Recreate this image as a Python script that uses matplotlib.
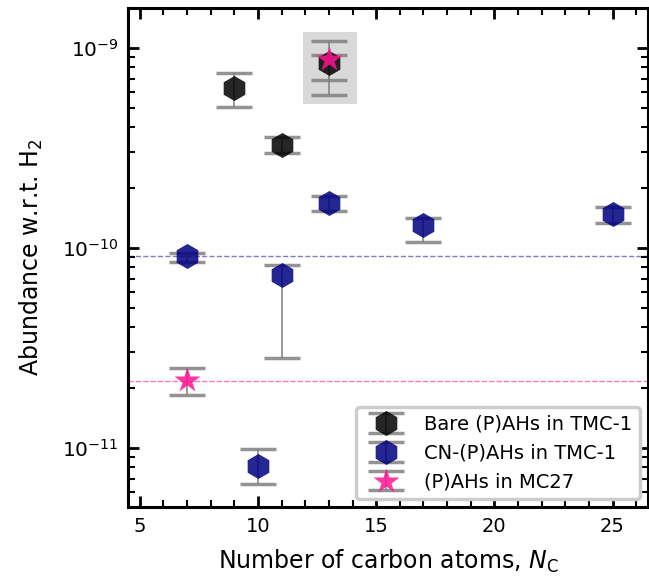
import numpy as np
import matplotlib.pyplot as plt
from matplotlib.patches import Rectangle
from matplotlib.ticker import NullFormatter

# ------------------------------
# Data
# ------------------------------

bare_nc = [9, 11, 13]
bare_ab = [6.3e-10, 3.27e-10, 8.4e-10]
bare_lo = [5.07e-10, 2.98e-10, 6.9e-10]
bare_hi = [7.5e-10, 3.6e-10, 9.2e-10]

cn_nc = [7, 10, 11, 13, 17, 25]
cn_ab = [9.1e-11, 8.1e-12, 7.3e-11, 1.68e-10, 1.30e-10, 1.48e-10]
cn_lo = [8.5e-11, 6.6e-12, 2.8e-11, 1.53e-10, 1.07e-10, 1.33e-10]
cn_hi = [9.4e-11, 9.9e-12, 8.2e-11, 1.82e-10, 1.41e-10, 1.60e-10]

mc_nc = [7, 13]
mc_ab = [2.19e-11, 8.8e-10]
mc_lo = [1.83e-11, 5.8e-10]
mc_hi = [2.5e-11, 1.08e-9]

cn_ref = 9.1e-11
mc_ref = 2.17e-11

# ------------------------------
# Plot
# ------------------------------

fig = plt.figure(figsize=(6.49, 5.81), dpi=100)
ax = fig.add_axes([128 / 649, 74 / 581, 520 / 649, 499 / 581])


def errs(ab, lo, hi):
    ab, lo, hi = np.array(ab), np.array(lo), np.array(hi)
    return [ab - lo, hi - ab]


ebkw = dict(ls="none", ecolor="grey", elinewidth=1.3, capsize=13, capthick=2.5)

# highlight box around the N_C = 13 detection in both sources
ax.add_patch(Rectangle((mc_nc[1] - 1.1, 5.25e-10), 2.3, 1.2e-9 - 5.25e-10,
                       color="#d9d9d9", zorder=0, lw=0))

ax.axhline(cn_ref, color="navy", ls="--", lw=1, alpha=0.5)
ax.axhline(mc_ref, color="deeppink", ls="--", lw=1, alpha=0.6)

ax.errorbar(bare_nc, bare_ab, yerr=errs(bare_ab, bare_lo, bare_hi), fmt="h",
            color="k", ms=18, alpha=0.85, mec="none", label="Bare (P)AHs in TMC-1", **ebkw)
ax.errorbar(cn_nc, cn_ab, yerr=errs(cn_ab, cn_lo, cn_hi), fmt="h",
            color="navy", ms=18, alpha=0.85, mec="none", label="CN-(P)AHs in TMC-1", **ebkw)
ax.errorbar(mc_nc, mc_ab, yerr=errs(mc_ab, mc_lo, mc_hi), fmt="*",
            color="deeppink", ms=19, alpha=0.85, mec="none", label="(P)AHs in MC27", **ebkw)

ax.set_yscale("log")
ax.set_xlim(4.5, 26.5)
ax.set_ylim(5.07e-12, 1.58e-9)
ax.set_xticks([5, 10, 15, 20, 25])
ax.set_xticks(np.arange(5, 27), minor=True)
ax.yaxis.set_minor_formatter(NullFormatter())

ax.tick_params(which="both", direction="in", top=True, right=True, labelsize=14, pad=7)
ax.tick_params(axis="y", which="major", labelsize=14.5)
ax.tick_params(which="major", length=8, width=2)
ax.tick_params(which="minor", length=5, width=1.5)
for s in ax.spines.values():
    s.set_linewidth(2.2)

ax.set_xlabel(r"Number of carbon atoms, $N_\mathrm{C}$", fontsize=17, labelpad=9)
ax.set_ylabel(r"Abundance w.r.t. H$_2$", fontsize=17, labelpad=12)

leg = ax.legend(loc="lower right", fontsize=14, framealpha=1, edgecolor="#cccccc",
                fancybox=True, borderaxespad=0.4, handlelength=2.3)
leg.get_frame().set_linewidth(2.5)

plt.savefig("out.png", dpi=100)
